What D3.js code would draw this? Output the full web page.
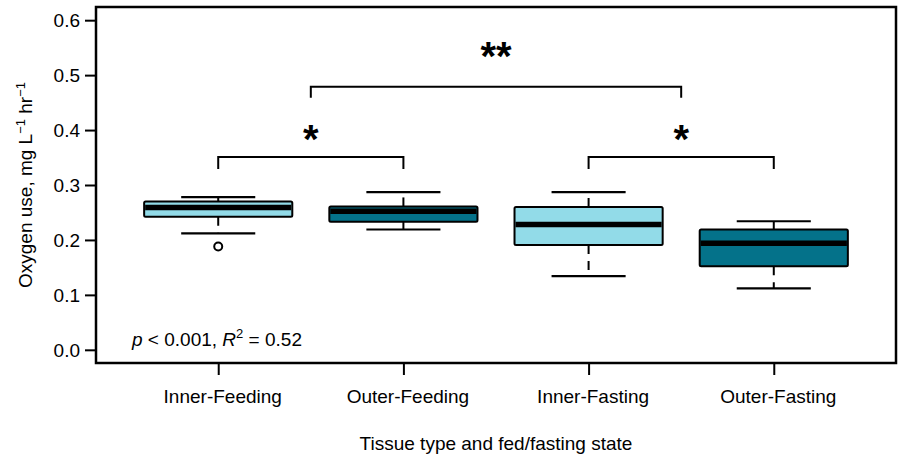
<!DOCTYPE html>
<html>
<head>
<meta charset="utf-8">
<script src="https://cdn.jsdelivr.net/npm/d3@7"></script>
<style>
  body { margin: 0; background: #fff; }
  text { font-family: "Liberation Sans", Arial, sans-serif; fill: #000; }
</style>
</head>
<body>
<div id="graph"></div>
<script>
var groups = ['Inner-Feeding', 'Outer-Feeding', 'Inner-Fasting', 'Outer-Fasting']
var whiskerLo = [0.212, 0.219, 0.134, 0.112]
var q1 = [0.242, 0.233, 0.191, 0.152]
var medians = [0.259, 0.252, 0.228, 0.194]
var q3 = [0.270, 0.261, 0.260, 0.219]
var whiskerHi = [0.278, 0.287, 0.287, 0.234]
var outliers = [[0.188], [], [], []]
var fills = ['#92dbe8', '#04728a', '#92dbe8', '#04728a']
var yTicks = [0, 0.1, 0.2, 0.3, 0.4, 0.5, 0.6]

// significance brackets: from group, to group, height, tip bottom, label
var brackets = [
  {from: 1, to: 2, y: 0.351, tip: 0.329, label: '*'},
  {from: 3, to: 4, y: 0.351, tip: 0.329, label: '*'},
  {from: 1.5, to: 3.5, y: 0.479, tip: 0.459, label: '**'}
]

var width = 901, height = 455
var svg = d3.select('#graph').append('svg')
  .attr('width', width).attr('height', height)

var x = d3.scaleLinear().domain([0.34, 4.66]).range([96, 896])
var y = d3.scaleLinear().domain([-0.024, 0.624]).range([363, 7])

var boxW = (x(1.4) - x(0.6))
var stapleW = boxW / 2

var rows = groups.map((g, i) => ({
  g, i: i + 1, lo: whiskerLo[i], q1: q1[i], med: medians[i], q3: q3[i],
  hi: whiskerHi[i], out: outliers[i], fill: fills[i]
}))

var gSel = svg.selectAll('g.box').data(rows).join('g').attr('class', 'box')

// whiskers
gSel.append('line')
  .attr('x1', d => x(d.i)).attr('x2', d => x(d.i))
  .attr('y1', d => y(d.q1)).attr('y2', d => y(d.lo))
  .attr('stroke', '#000').attr('stroke-width', 2).attr('stroke-dasharray', '9,7')
gSel.append('line')
  .attr('x1', d => x(d.i)).attr('x2', d => x(d.i))
  .attr('y1', d => y(d.q3)).attr('y2', d => y(d.hi))
  .attr('stroke', '#000').attr('stroke-width', 2).attr('stroke-dasharray', '9,7')
gSel.selectAll('line.staple').data(d => [d.lo, d.hi].map(v => ({v, i: d.i})))
  .join('line').attr('class', 'staple')
  .attr('x1', d => x(d.i) - stapleW / 2).attr('x2', d => x(d.i) + stapleW / 2)
  .attr('y1', d => y(d.v)).attr('y2', d => y(d.v))
  .attr('stroke', '#000').attr('stroke-width', 2.2)

gSel.append('rect')
  .attr('x', d => x(d.i) - boxW / 2).attr('width', boxW)
  .attr('y', d => y(d.q3)).attr('height', d => y(d.q1) - y(d.q3))
  .attr('fill', d => d.fill).attr('stroke', '#000').attr('stroke-width', 2)
  .attr('rx', 1.5)

gSel.append('line')
  .attr('x1', d => x(d.i) - boxW / 2 + 1).attr('x2', d => x(d.i) + boxW / 2 - 1)
  .attr('y1', d => y(d.med)).attr('y2', d => y(d.med))
  .attr('stroke', '#000').attr('stroke-width', 5.5)

gSel.selectAll('circle').data(d => d.out.map(v => ({v, i: d.i})))
  .join('circle')
  .attr('cx', d => x(d.i)).attr('cy', d => y(d.v)).attr('r', 4)
  .attr('fill', 'none').attr('stroke', '#000').attr('stroke-width', 2)

// brackets
brackets.forEach(b => {
  var path = d3.path()
  path.moveTo(x(b.from), y(b.tip))
  path.lineTo(x(b.from), y(b.y))
  path.lineTo(x(b.to), y(b.y))
  path.lineTo(x(b.to), y(b.tip))
  svg.append('path').attr('d', path.toString())
    .attr('fill', 'none').attr('stroke', '#000').attr('stroke-width', 2)
})
svg.selectAll('text.star').data(brackets).join('text').attr('class', 'star')
  .attr('x', d => x((d.from + d.to) / 2))
  .attr('y', d => y(d.y) - (d.label.length > 1 ? 17 : 4))
  .attr('text-anchor', 'middle')
  .style('font-size', '40px').style('font-weight', 'bold')
  .text(d => d.label)

// frame
svg.append('rect').attr('x', 96).attr('y', 7).attr('width', 800).attr('height', 356)
  .attr('fill', 'none').attr('stroke', '#000').attr('stroke-width', 2.5)

// y axis
var yAxis = svg.append('g').attr('transform', 'translate(96,0)')
  .call(d3.axisLeft(y).tickValues(yTicks).tickFormat(d3.format('.1f')).tickSize(11).tickPadding(5))
yAxis.select('.domain').remove()
yAxis.selectAll('line').attr('stroke-width', 2)
yAxis.selectAll('text').style('font-size', '19px').attr('dy', '0.35em')

// x axis
var xAxis = svg.append('g').attr('transform', 'translate(0,363)')
  .call(d3.axisBottom(x).tickValues([1, 2, 3, 4]).tickFormat((d, i) => groups[i]).tickSize(12).tickPadding(15))
xAxis.select('.domain').remove()
xAxis.selectAll('line').attr('stroke-width', 2)
xAxis.selectAll('text').style('font-size', '19px').attr('dx', 4)

svg.append('text').attr('x', x(2.5)).attr('y', 450)
  .attr('text-anchor', 'middle').style('font-size', '19px')
  .text('Tissue type and fed/fasting state')

var yt = svg.append('text')
  .attr('transform', 'translate(32,' + y(0.3) + ') rotate(-90)')
  .attr('text-anchor', 'middle').style('font-size', '19px')
yt.append('tspan').text('Oxygen use, mg L')
yt.append('tspan').attr('dy', -7).style('font-size', '13px').text('\u22121')
yt.append('tspan').attr('dy', 7).text(' hr')
yt.append('tspan').attr('dy', -7).style('font-size', '13px').text('\u22121')

var ann = svg.append('text').attr('x', 132).attr('y', 346).style('font-size', '19px')
ann.append('tspan').style('font-style', 'italic').text('p')
ann.append('tspan').text(' < 0.001, ')
ann.append('tspan').style('font-style', 'italic').text('R')
ann.append('tspan').attr('dy', -8).style('font-size', '13px').text('2')
ann.append('tspan').attr('dy', 8).text(' = 0.52')
</script>
</body>
</html>
